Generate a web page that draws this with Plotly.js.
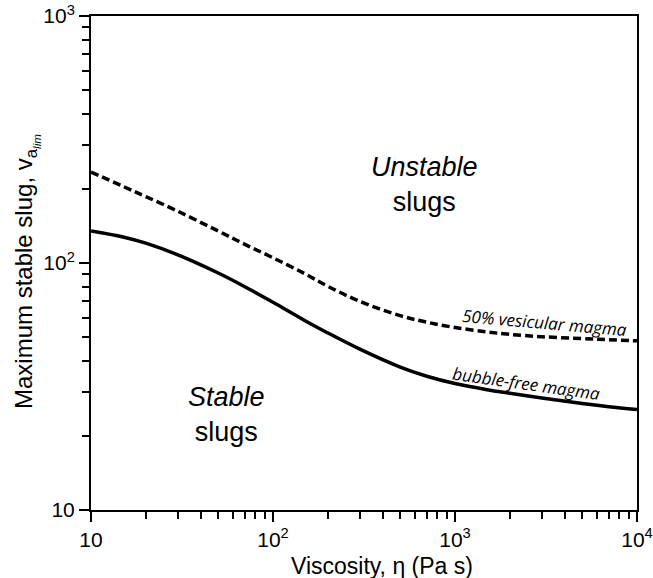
<!DOCTYPE html>
<html>
<head>
<meta charset="utf-8">
<script src="https://cdn.plot.ly/plotly-3.0.1.min.js"></script>
<style>html,body{margin:0;padding:0;background:#fff;}#chart{width:653px;height:578px;}</style>
</head>
<body>
<div id="chart"></div>
<script>
// Viscosity (Pa s)
const viscosity = [10, 15, 20, 30, 50, 70, 100, 150, 200, 300, 500, 700, 1000, 1500, 2000, 3000, 5000, 7000, 10000];
// Maximum stable slug, bubble-free magma
const bubbleFree = [134.9, 127.5, 120.3, 107.9, 91.1, 80.2, 69.3, 58.4, 52.1, 44.8, 37.9, 34.8, 32.5, 30.7, 29.7, 28.4, 27.0, 26.2, 25.5];
// Maximum stable slug, 50% vesicular magma
const vesicular = [233.6, 204.3, 185.8, 162.0, 134.7, 119.0, 105.0, 90.4, 80.5, 69.9, 61.2, 57.6, 54.8, 52.6, 51.4, 50.3, 49.4, 48.9, 48.4];

const xTickVals = [10, 100, 1000, 10000];
const xTickText = ['10', '10<sup>2</sup>', '10<sup>3</sup>', '10<sup>4</sup>'];
const yTickVals = [10, 100, 1000];
const yTickText = ['10', '10<sup>2</sup>', '10<sup>3</sup>'];

const FONT = 'Liberation Sans, Arial, sans-serif';

const traces = [
  {x: viscosity, y: vesicular, type: 'scatter', mode: 'lines', line: {color: '#000', width: 3.5, dash: '8px,4px', shape: 'spline'}, showlegend: false, hoverinfo: 'skip'},
  {x: viscosity, y: bubbleFree, type: 'scatter', mode: 'lines', line: {color: '#000', width: 3.5, shape: 'spline'}, showlegend: false, hoverinfo: 'skip'}
];

const axisCommon = {
  type: 'log', showgrid: false, zeroline: false,
  showline: true, linecolor: '#000', linewidth: 2, mirror: true,
  ticks: 'outside', ticklen: 10, tickwidth: 2, tickcolor: '#000',
  minor: {ticks: 'outside', ticklen: 7, tickwidth: 2, tickcolor: '#000', dtick: 'D1', showgrid: false},
  tickfont: {family: FONT, size: 21, color: '#000'},
  ticklabeloverflow: 'allow'
};

const layout = {
  width: 653, height: 578,
  margin: {l: 91, r: 16, t: 16, b: 68},
  paper_bgcolor: '#fff', plot_bgcolor: '#fff',
  xaxis: Object.assign({}, axisCommon, {
    range: [1, 4], tickmode: 'array', tickvals: xTickVals, ticktext: xTickText
  }),
  yaxis: Object.assign({}, axisCommon, {
    range: [1, 3], tickmode: 'array', tickvals: yTickVals, ticktext: yTickText
  }),
  annotations: [
    {xref: 'paper', yref: 'paper', x: 0.533, y: -0.113, xanchor: 'center', yanchor: 'middle',
     text: 'Viscosity, η (Pa s)', showarrow: false, font: {family: FONT, size: 23, color: '#000'}},
    {xref: 'paper', yref: 'paper', x: -0.117, y: 0.482, xanchor: 'center', yanchor: 'middle', textangle: -90,
     text: 'Maximum stable slug, v<sub>a<sub><i>lim</i></sub></sub>', showarrow: false, font: {family: FONT, size: 24, color: '#000'}},
    {xref: 'paper', yref: 'paper', x: 0.610, y: 0.658, xanchor: 'center', yanchor: 'middle', text: '<i>Unstable</i><br>slugs', showarrow: false, font: {family: FONT, size: 27, color: '#000'}},
    {xref: 'paper', yref: 'paper', x: 0.249, y: 0.193, xanchor: 'center', yanchor: 'middle', text: '<i>Stable</i><br>slugs', showarrow: false, font: {family: FONT, size: 27, color: '#000'}},
    {xref: 'paper', yref: 'paper', x: 0.830, y: 0.380, xanchor: 'center', yanchor: 'middle', text: '<i>50% vesicular magma</i>', showarrow: false, textangle: 5, font: {family: 'Open Sans, sans-serif', size: 17, color: '#000'}},
    {xref: 'paper', yref: 'paper', x: 0.798, y: 0.256, xanchor: 'center', yanchor: 'middle', text: '<i>bubble-free magma</i>', showarrow: false, textangle: 8, font: {family: 'Open Sans, sans-serif', size: 17, color: '#000'}}
  ]
};

Plotly.newPlot('chart', traces, layout, {staticPlot: true, displayModeBar: false});
</script>
</body>
</html>
